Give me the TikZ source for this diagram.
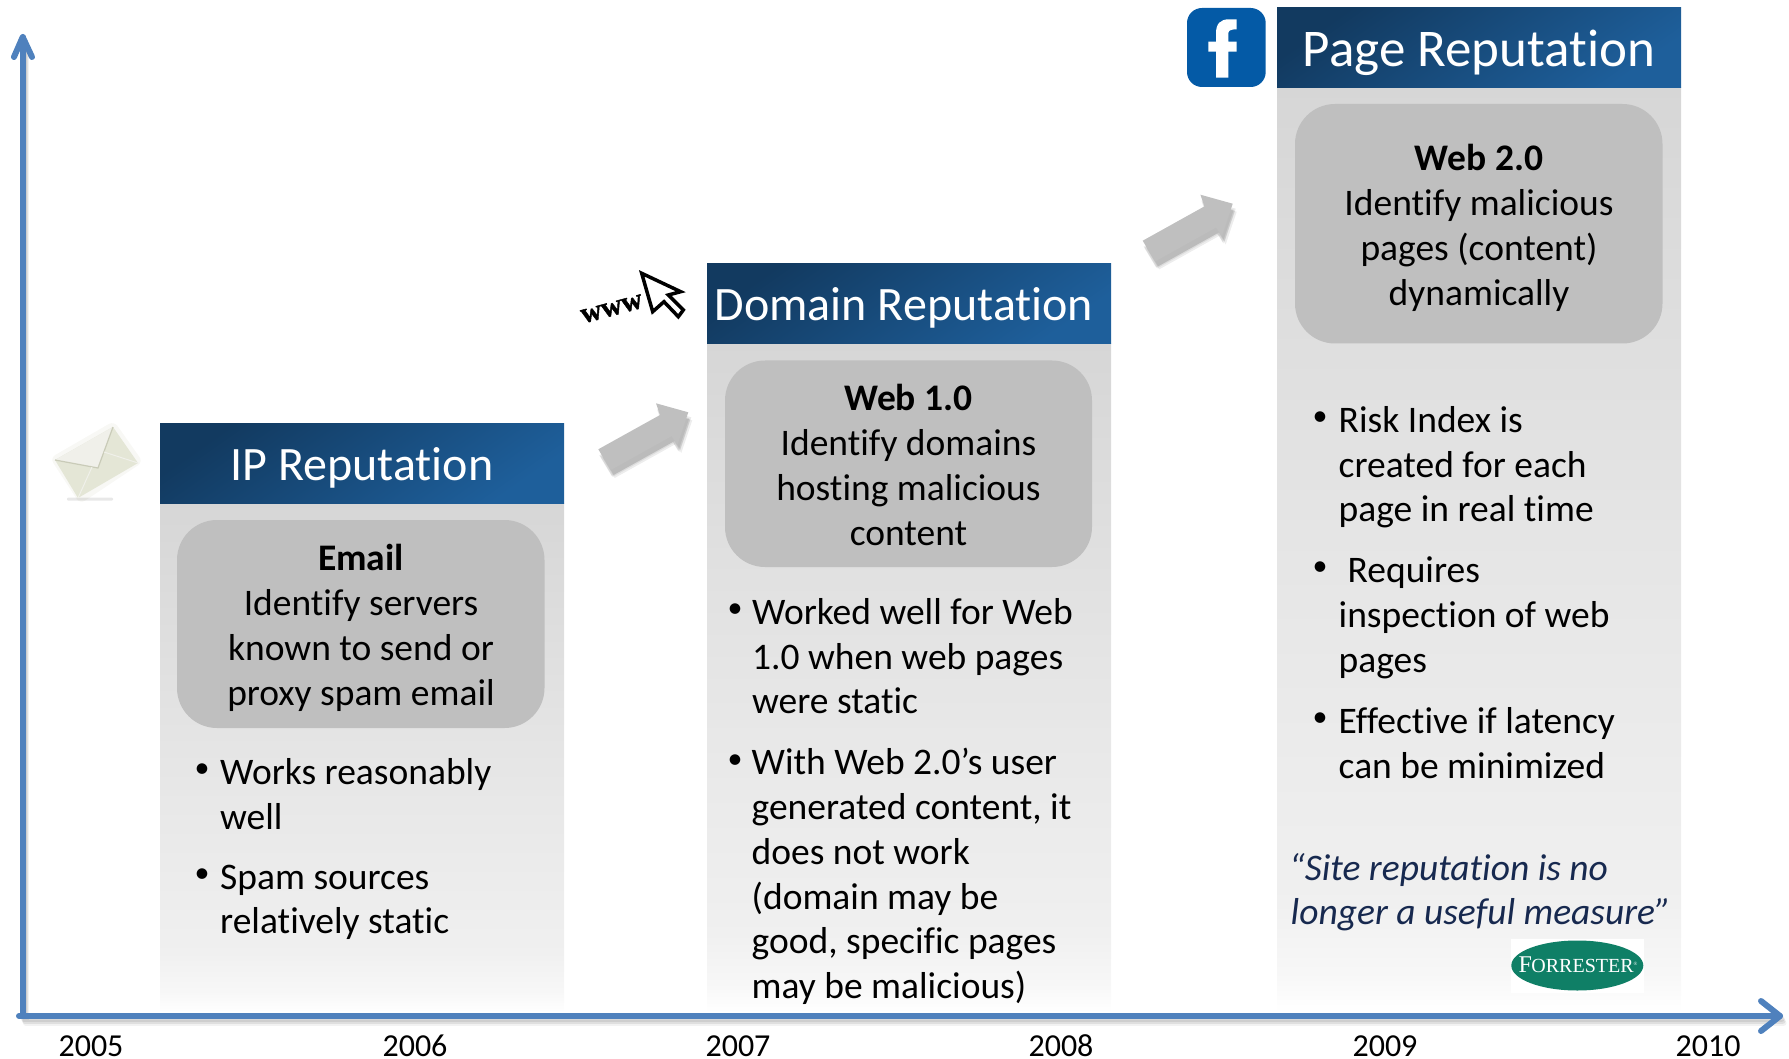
\documentclass[tikz,border=0pt]{standalone}
\usepackage{fontspec}
\setmainfont[Ligatures=CommonOff]{Carlito}
\newfontfamily\logofont{Liberation Serif}
\newfontfamily\wwwfont[FakeBold=1.5]{Liberation Serif}
\usetikzlibrary{arrows.meta,calc}
\definecolor{axisblue}{HTML}{4F81BD}
\definecolor{arrowgray}{HTML}{BFBFBF}
\definecolor{boxgray}{HTML}{BFBFBF}
\definecolor{headA}{HTML}{123A60}
\definecolor{headB}{HTML}{1E5F9B}
\definecolor{quotecol}{HTML}{17294F}
\definecolor{fbblue}{HTML}{045AA6}
\definecolor{forrest}{HTML}{0F7F66}
\definecolor{envbody}{HTML}{E4E6D6}
\definecolor{envflap}{HTML}{F0F0EA}
\definecolor{envline}{HTML}{C9CBB8}
\definecolor{envhalo}{HTML}{F8F8F5}
\pgfdeclareverticalshading{colbody}{100bp}{color(0bp)=(white); color(25bp)=(white); color(27bp)=(white!97!black); color(31bp)=(white!94!black); color(50bp)=(white!90!black); color(75bp)=(white!84!black); color(100bp)=(white!84!black)}
\tikzset{
  x=1pt,y=-1pt,
  coltop/.style={draw=none,top color=headA,bottom color=headB,shading angle=35},
  colbase/.style={draw=none,shading=colbody},
  round/.style={draw=none,fill=boxgray,rounded corners=40pt},
  head/.style={text=white,inner sep=0pt,font=\fontsize{48}{56}\selectfont},
  body/.style={text=black,inner sep=0pt,align=left,anchor=north west,font=\fontsize{37.5}{44.8}\selectfont},
  bodyc/.style={text=black,inner sep=0pt,align=center,anchor=north,font=\fontsize{37.5}{45}\selectfont},
  bul/.style={text=black,inner sep=0pt,anchor=center,font=\fontsize{30}{36}\selectfont},
  year/.style={text=black,inner sep=0pt,font=\fontsize{32}{36}\selectfont},
  axisline/.style={draw=axisblue,line width=6pt,line cap=round,line join=round},
  axisshadow/.style={draw=black,line width=6pt,line cap=round,line join=round},
}
\newcommand{\blockarrow}[2]{%
  \foreach \o/\dx/\dy in {0.07/4/8,0.07/2/7,0.08/1/6,0.08/3/5}{
    \fill[black,opacity=\o,shift={(#1+\dx,#2+\dy)}]
      (0,0)--(12.4,20.7)--(73.4,-13.3)--(79,-4.3)--(90,-37)--(57.7,-46)--(61.7,-34.3)--cycle;}
  \fill[arrowgray,shift={(#1,#2)}]
      (0,0)--(12.4,20.7)--(73.4,-13.3)--(79,-4.3)--(90,-37)--(57.7,-46)--(61.7,-34.3)--cycle;
}
\begin{document}
\begin{tikzpicture}
\useasboundingbox (0,0) rectangle (1789,1059);
% column bodies
\fill[colbase] (160,503) rectangle (564,1012);
\fill[colbase] (707,344) rectangle (1111,1012);
\fill[colbase] (1277,88) rectangle (1681,1012);
% headers
\node[coltop,shade,minimum width=404pt,minimum height=80pt,inner sep=0pt] (h1) at (362,463.5) {};
\node[coltop,shade,minimum width=404pt,minimum height=80pt,inner sep=0pt] (h2) at (909,304) {};
\node[coltop,shade,minimum width=404pt,minimum height=80pt,inner sep=0pt] (h3) at (1479,48) {};
\node[head] (t1) at (362,468) {IP Reputation};
\node[head] (t2) at (904,308) {Domain Reputation};
\node[head,font=\fontsize{53}{60}\selectfont] (t3) at (1479,53) {Page Reputation};
% grey rounded boxes
\fill[round] (177,520) rectangle (544.5,728);
\fill[round] (725,360.5) rectangle (1092,567);
\fill[round] (1295,104) rectangle (1662.5,343.5);
\node[bodyc] (r1) at (361,544) {\textbf{Email}\\Identify servers\\known to send or\\proxy spam email};
\node[bodyc] (r2) at (908.5,384) {\textbf{Web 1.0}\\Identify domains\\hosting malicious\\content};
\node[bodyc] (r3) at (1479,143.5) {\textbf{Web 2.0}\\Identify malicious\\pages (content)\\dynamically};
% column 1 bullets
\node[bul] (b1a) at (202,771) {•};
\node[body] (t1a) at (220,758) {Works reasonably\\well};
\node[bul] (b1b) at (202,876) {•};
\node[body] (t1b) at (220,864.5) {Spam sources\\relatively static};
% column 2 bullets
\node[bul] (b2a) at (735,611) {•};
\node[body] (t2a) at (752,598) {Worked well for Web\\1.0 when web pages\\were static};
\node[bul] (b2b) at (735,762) {•};
\node[body] (t2b) at (751.5,748) {With Web 2.0’s user\\generated content, it\\does not work\\(domain may be\\good, specific pages\\may be malicious)};
% column 3 bullets
\node[bul] (b3a) at (1320,419) {•};
\node[body] (t3a) at (1338.5,406) {Risk Index is\\created for each\\page in real time};
\node[bul] (b3b) at (1320,569) {•};
\node[body] (t3b) at (1347.5,556) {Requires};
\node[body] (t3c) at (1338.5,601) {inspection of web\\pages};
\node[bul] (b3d) at (1320,720) {•};
\node[body] (t3d) at (1338.5,707) {Effective if latency\\can be minimized};
\node[body,text=quotecol,font=\fontsize{37.5}{45}\selectfont\itshape] (q1) at (1289,853.5) {“Site reputation is no};
\node[body,text=quotecol,font=\fontsize{37.5}{45}\selectfont\itshape] (q2) at (1290.5,898.5) {longer a useful measure”};
% forrester logo
\fill[white] (1510.7,939) rectangle (1644,993.3);
\fill[forrest] (1577.3,965.5) ellipse [x radius=66,y radius=25];
\node[text=white,inner sep=0pt,font=\logofont\fontsize{24}{26}\selectfont] (fr) at (1578,964.5) {F\kern-0.5pt{\fontsize{20}{26}\selectfont ORRESTER}\raisebox{7pt}{\fontsize{5}{6}\selectfont ®}};
% block arrows
\blockarrow{598.3}{449.3}
\blockarrow{1142.7}{240.7}
% axes shadow
\foreach \o/\d in {0.05/7,0.08/5,0.08/3}{
  \draw[axisshadow,opacity=\o,shift={(\d/2,\d)}] (22.7,40)--(22.7,1016)--(1780,1016);
}
\coordinate (origin) at (19,1016);
\coordinate (ytip) at (22.7,37);
\coordinate (xtip) at (1780,1016);
\draw[axisline] (origin) -- (xtip);
\draw[axisline] (22.7,1016) -- (ytip);
\draw[axisline] (14,57) -- (ytip) -- (32,57);
\draw[axisline] (1761,1001) -- (xtip) -- (1761,1031);
% year labels
\node[year] (y05) at (91,1046) {2005};
\node[year] (y06) at (415,1046) {2006};
\node[year] (y07) at (738,1046) {2007};
\node[year] (y08) at (1061,1046) {2008};
\node[year] (y09) at (1385,1046) {2009};
\node[year] (y10) at (1708,1046) {2010};
% envelope
\fill[envhalo,rounded corners=6pt] (50,458)--(114,421)--(143,462)--(80,504)--cycle;
\fill[black,opacity=0.09,rounded corners=1pt] (67,497.5) -- (113,497.5) -- (113,500.5) -- (67,500.5) -- cycle;
\fill[envbody] (55,460)--(113,427)--(138,463)--(78,498)--cycle;
\fill[envflap] (55,460)--(113,427)--(98,468)--cycle;
\draw[envline,line width=1.2pt] (55,460)--(98,468)--(113,427);
\draw[envflap,line width=1pt] (78,498)--(92,467);
\draw[envflap,line width=1pt] (138,463)--(104,452);
% www cursor
\node[inner sep=0pt,rotate=15,text=black,font=\wwwfont\bfseries\fontsize{29}{36}\selectfont] (www) at (612,309) {www};
\draw[black,fill=white,line width=3.5pt,line join=miter]
  (641.7,273.3)--(680.7,291.7)--(668.3,295)--(683.3,310)--(678.3,316.7)--(664,301.7)--(652.7,311.7)--cycle;
% facebook icon
\fill[fbblue,rounded corners=15pt] (1187,8) rectangle (1265.7,87);
\fill[white] (1216,77.7)--(1228.3,77.7)--(1228.3,51.7)--(1236.7,51.7)--(1236.7,41.7)--(1228.3,41.7)--(1228.3,33.3)
  .. controls (1228.3,30.5) and (1231,29.3) .. (1236.7,29.3)--(1236.7,19.3)--(1229,19.3)
  .. controls (1220,19.3) and (1216,24) .. (1216,33.3)--(1216,41.7)--(1208.3,41.7)--(1208.3,51.7)--(1216,51.7)--cycle;
\end{tikzpicture}
\end{document}
